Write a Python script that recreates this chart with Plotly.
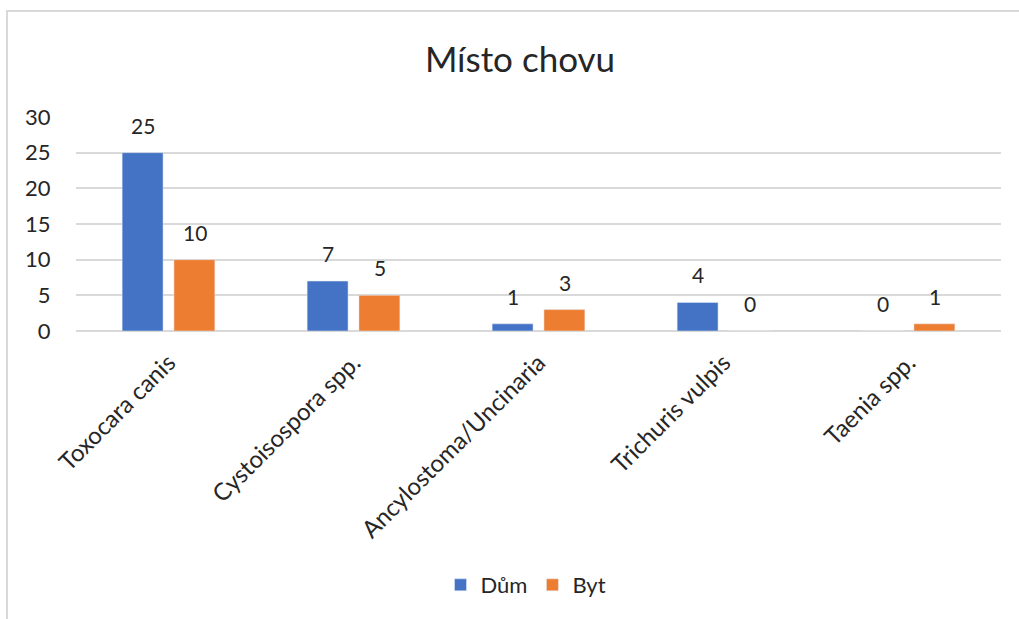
import plotly.graph_objects as go

categories = ["Toxocara canis", "Cystoisospora spp.", "Ancylostoma/Uncinaria", "Trichuris vulpis", "Taenia spp."]
dum = [25, 7, 1, 4, 0]
byt = [10, 5, 3, 0, 1]
y_ticks = [0, 5, 10, 15, 20, 25, 30]

W, H = 1019, 619
L, R, T, B = 76, 18, 117, 288
pw, ph = W - L - R, H - T - B
FONT = "Lato"
TXT = "#262626"
BLUE, ORANGE = "#4472C4", "#ED7D31"

fig = go.Figure()
fig.add_trace(go.Bar(name="Dům", x=categories, y=dum, marker_color=BLUE))
fig.add_trace(go.Bar(name="Byt", x=categories, y=byt, marker_color=ORANGE))

# data labels above bars (Excel-like spacing)
for vals, xs in ((dum, -26), (byt, 26)):
    for c, v in zip(categories, vals):
        fig.add_annotation(x=c, y=v, text=str(v), showarrow=False,
                           xshift=xs, yshift=13, yanchor="bottom",
                           font=dict(size=21, color=TXT, family=FONT))

def px_x(p):
    return (p - L) / pw
def px_y(p):
    return (H - B - p) / ph

fig.add_shape(type="rect", xref="paper", yref="paper",
              x0=px_x(7), x1=px_x(W + 20), y0=px_y(11), y1=px_y(H + 20),
              line=dict(color="#D9D9D9", width=2), fillcolor="rgba(0,0,0,0)", layer="below")

fig.update_layout(
    width=W, height=H,
    margin=dict(l=L, r=R, t=T, b=B, autoexpand=False),
    paper_bgcolor="white", plot_bgcolor="white",
    barmode="group", bargap=0.44, bargroupgap=0.21,
    title=dict(text="Místo chovu", x=520 / W, xanchor="center", y=1 - 60 / H, yanchor="middle",
               font=dict(size=35, color=TXT, family=FONT)),
    font=dict(family=FONT, color=TXT),
    legend=dict(orientation="h", x=526 / W, xanchor="center", xref="container",
                y=1 - 585 / H, yanchor="middle", yref="container",
                font=dict(size=22, color=TXT, family=FONT), itemwidth=30,
                traceorder="normal"),
    showlegend=True,
)
fig.update_xaxes(tickangle=-45, tickfont=dict(size=24, color=TXT, family=FONT),
                 showgrid=False, showline=False, ticks="", ticklabelstandoff=12)
fig.update_yaxes(range=[0, 30], tickvals=y_ticks, tickfont=dict(size=22, color=TXT, family=FONT),
                 showgrid=True, gridcolor="#D9D9D9", gridwidth=2,
                 zeroline=True, zerolinecolor="#D9D9D9", zerolinewidth=2,
                 showline=False, ticks="outside", ticklen=20, tickcolor="rgba(0,0,0,0)")

fig.write_html("out.html")
